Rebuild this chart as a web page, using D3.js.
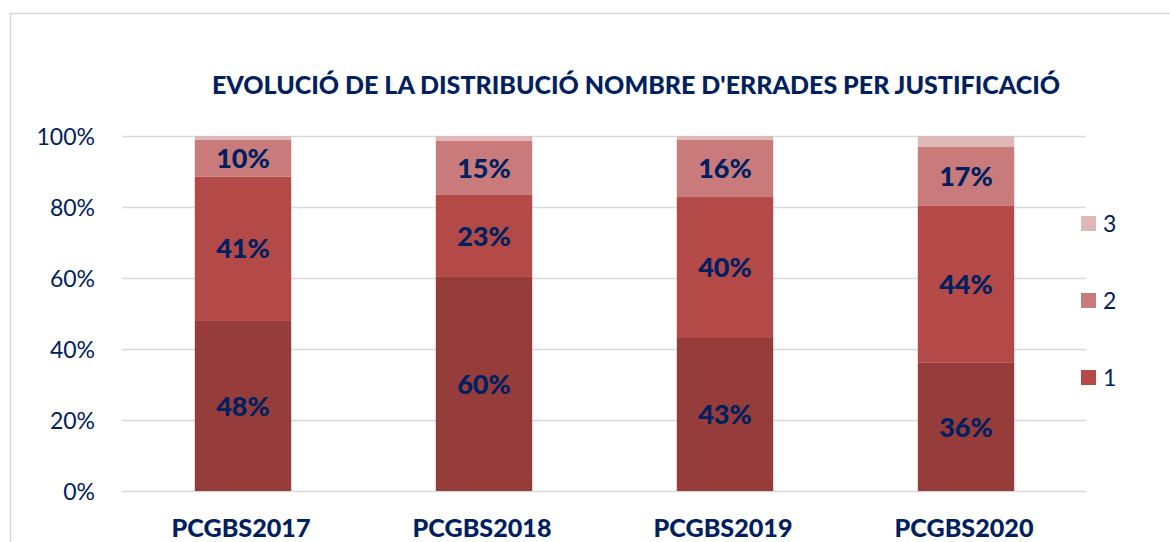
<!DOCTYPE html>
<html><head><meta charset="utf-8">
<script src="https://cdn.jsdelivr.net/npm/d3@7"></script>
<style>body{margin:0;background:#fff}svg{display:block}</style>
</head><body>
<svg id="c" width="1170" height="542"></svg>
<script>
const categories = ["PCGBS2017","PCGBS2018","PCGBS2019","PCGBS2020"];
const seriesNames = ["0","1","2","3"];
const s0 = [47.9,60.3,43.1,36.1];
const s1 = [40.7,23.1,39.7,44.2];
const s2 = [10.3,15.2,16.1,16.6];
const s3 = [1.1,1.4,1.1,3.1];
const yTicks = [0,20,40,60,80,100];
const legendItems = ["3","2","1"];
const title = "EVOLUCIÓ DE LA DISTRIBUCIÓ NOMBRE D'ERRADES PER JUSTIFICACIÓ";

const colors = {"0":"#963c3a","1":"#b34a48","2":"#c97b7b","3":"#e0b7b7"};
const navy = "#002060";
const svg = d3.select("#c");

// chart border
svg.append("path").attr("d","M10.5,542 V13.5 H1170").attr("fill","none").attr("stroke","#d9d9d9").attr("stroke-width",1.5);

const x = d3.scaleBand().domain(categories).range([122.5,1086.5]).paddingInner(0.6).paddingOuter(0.3);
const y = d3.scaleLinear().domain([0,100]).range([491,136]);

// gridlines
svg.append("g").selectAll("line").data(yTicks).join("line")
  .attr("x1",122).attr("x2",1086).attr("y1",d=>y(d)+0.5).attr("y2",d=>y(d)+0.5)
  .attr("stroke","#d9d9d9").attr("stroke-width",1.5);

// y axis labels
const yAxis = d3.axisLeft(y).tickValues(yTicks).tickFormat(d=>d+"%").tickSize(0).tickPadding(0);
const ga = svg.append("g").attr("transform","translate(95,0)").call(yAxis);
ga.select(".domain").remove();
ga.selectAll("text").attr("font-family","Lato").attr("font-size",23).attr("fill",navy).attr("dy","0.35em");

// stack
const table = categories.map((c,i)=>({cat:c,"0":s0[i],"1":s1[i],"2":s2[i],"3":s3[i]}));
const stack = d3.stack().keys(seriesNames)(table);

const layers = svg.append("g").selectAll("g").data(stack).join("g").attr("fill",d=>colors[d.key]);
layers.selectAll("rect").data(d=>d).join("rect")
  .attr("x",d=>x(d.data.cat)).attr("width",x.bandwidth())
  .attr("y",d=>y(d[1])).attr("height",d=>y(d[0])-y(d[1]));

// labels
const lbl = svg.append("g");
stack.filter(s=>s.key!=="3").forEach(s=>{
  lbl.selectAll(null).data(s).join("text")
    .attr("x",d=>x(d.data.cat)+x.bandwidth()/2)
    .attr("y",d=>(y(d[0])+y(d[1]))/2)
    .attr("dy","0.36em")
    .attr("text-anchor","middle")
    .attr("font-family","Lato").attr("font-weight","900").attr("font-size",27)
    .attr("fill",navy)
    .text(d=>Math.round(d[1]-d[0])+"%");
});

// x labels
svg.append("g").selectAll("text").data(categories).join("text")
  .attr("x",d=>x(d)+x.bandwidth()/2-2).attr("y",537)
  .attr("text-anchor","middle")
  .attr("font-family","Lato").attr("font-weight","900").attr("font-size",24)
  .attr("textLength",139).attr("lengthAdjust","spacingAndGlyphs")
  .attr("fill",navy).text(d=>d);

// title
svg.append("text").attr("x",212).attr("y",94)
  .attr("font-family","Lato").attr("font-weight","900").attr("font-size",25)
  .attr("textLength",848).attr("lengthAdjust","spacingAndGlyphs")
  .attr("fill",navy).text(title);

// legend
const lg = svg.append("g").selectAll("g").data(legendItems).join("g")
  .attr("transform",(d,i)=>`translate(1081,${216+i*77})`);
lg.append("rect").attr("width",15).attr("height",15).attr("fill",d=>colors[d]);
lg.append("text").attr("x",22).attr("y",7.5).attr("dy","0.36em")
  .attr("font-family","Lato").attr("font-size",23).attr("fill",navy).text(d=>d);
</script>
</body></html>
